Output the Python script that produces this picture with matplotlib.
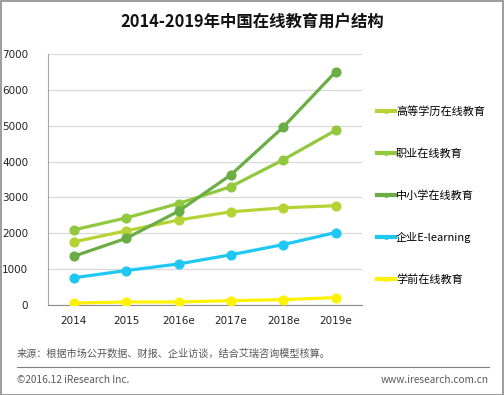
import matplotlib
matplotlib.use("Agg")
import matplotlib.pyplot as plt
from matplotlib.patches import Rectangle
from matplotlib.lines import Line2D

plt.rcParams['font.family'] = ['Noto Sans CJK SC', 'DejaVu Sans']

# ── data ─────────────────────────────────────────────────────────────
years = ["2014", "2015", "2016e", "2017e", "2018e", "2019e"]
series_names = ["高等学历在线教育", "职业在线教育", "中小学在线教育", "企业E-learning", "学前在线教育"]
higher_edu = [1760, 2070, 2370, 2600, 2710, 2770]
vocational = [2095, 2430, 2830, 3300, 4050, 4870]
k12 = [1360, 1860, 2615, 3630, 4960, 6500]
enterprise = [760, 960, 1145, 1400, 1685, 2020]
preschool = [55, 85, 85, 120, 150, 205]
colors = ["#b5d334", "#92c83e", "#6aad45", "#1ec8f2", "#fff200"]

W, H = 504, 395
fig = plt.figure(figsize=(W / 100, H / 100), dpi=100)
fig.patch.set_facecolor("white")

# axes in pixel box
L, R, T, B = 47.7, 361.7, 54, 305
ax = fig.add_axes([L / W, 1 - B / H, (R - L) / W, (B - T) / H])

x = list(range(len(years)))
handles = []
for vals, c, name in zip([higher_edu, vocational, k12, enterprise, preschool], colors, series_names):
    ax.plot(x, vals, color=c, lw=2.3, marker="o", ms=6.3, zorder=3)
    handles.append(Line2D([], [], color=c, lw=3, marker="o", ms=2.5, label=name))

ax.set_xlim(-0.5, 5.5)
ax.set_ylim(0, 7000)
ax.set_yticks(range(0, 7001, 1000))
ax.set_xticks(x)
ax.set_xticklabels(years)
ax.grid(axis="y", color="#d9d9d9", lw=0.9, zorder=0)
ax.set_axisbelow(True)
for s in ["top", "right"]:
    ax.spines[s].set_visible(False)
ax.spines["left"].set_color("#a6a6a6")
ax.spines["bottom"].set_color("#8c8c8c")
ax.tick_params(length=0, labelsize=8, colors="#222222")
ax.tick_params(axis="y", pad=14)
ax.tick_params(axis="x", pad=8)
for lab in ax.get_yticklabels() + ax.get_xticklabels():
    lab.set_family(["DejaVu Sans"])
    lab.set_fontsize(7.5)

ax.legend(handles=handles, loc="upper left", bbox_to_anchor=(377 / W, 1 - 106 / H),
          bbox_transform=fig.transFigure, frameon=False, fontsize=8,
          handlelength=1.6, handletextpad=0.1, labelspacing=2.82,
          borderpad=0, borderaxespad=0)

fig.text(252 / W, 1 - 22 / H, "2014-2019年中国在线教育用户结构", ha="center", va="center",
         fontsize=11.8, fontweight="bold", color="#111111")

fig.text(17 / W, 1 - 354 / H, "来源：根据市场公开数据、财报、企业访谈，结合艾瑞咨询模型核算。",
         ha="left", va="center", fontsize=7.3, color="#595959")
fig.add_artist(Line2D([17 / W, 489 / W], [1 - 367 / H, 1 - 367 / H], color="#7f7f7f", lw=0.8))
fig.text(17 / W, 1 - 380 / H, "©2016.12 iResearch Inc.", ha="left", va="center",
         fontsize=7.3, color="#595959")
fig.text(489 / W, 1 - 380 / H, "www.iresearch.com.cn", ha="right", va="center",
         fontsize=7.3, color="#595959")

fig.add_artist(Rectangle((0.5 / W, 0.5 / H), 1 - 1.5 / W, 1 - 1.5 / H, transform=fig.transFigure,
                         fill=False, edgecolor="#8c8c8c", lw=1.2))

fig.savefig("out.png", dpi=100)
